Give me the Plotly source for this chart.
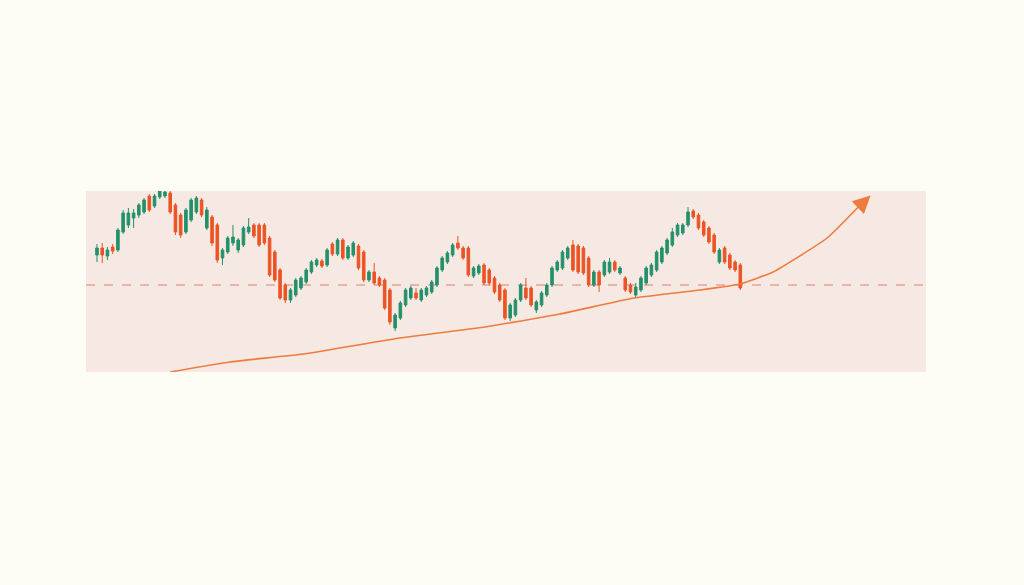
import plotly.graph_objects as go

# Candle data (index-based sessions)
opens = [117,124,116,125,122,140,147,154,157,160,176,166,175,176,179,167,157,140,152,160,
         172,144,155,147,114,120,129,122,127,140,147,147,147,134,120,102,87,72,77,84,
         90,100,107,111,107,128,118,132,114,117,126,120,92,100,94,92,82,44,54,67,
         74,79,72,77,80,87,102,110,117,129,124,124,96,99,107,102,94,87,82,54,
         57,72,84,84,62,67,77,87,102,104,114,127,126,124,114,87,100,97,100,110,
         99,94,87,77,82,89,97,102,110,119,127,137,139,147,161,157,150,144,137,110,
         124,117,110,107]
closes = [124,117,122,121,142,159,159,159,167,172,162,176,181,180,160,140,137,162,172,174,
          157,162,129,112,122,134,135,132,144,145,136,127,129,97,92,74,72,82,92,94,
          102,110,112,106,122,118,132,114,125,129,104,92,100,89,87,64,50,57,69,82,
          84,74,82,84,90,104,114,119,127,124,114,97,104,106,89,89,80,72,54,67,
          72,87,74,67,70,79,87,104,110,120,124,102,100,99,87,100,87,110,110,102,
          104,82,80,85,94,104,107,120,124,132,140,147,147,160,155,144,137,130,120,122,
          110,104,102,84]
highs = [128,129,125,128,144,162,164,163,169,174,178,178,182,181,181,169,159,164,174,176,
         174,165,157,149,124,136,147,134,146,154,149,149,149,136,122,104,89,84,94,96,
         104,112,114,113,124,130,134,134,127,131,128,122,102,109,96,94,84,59,71,84,
         86,84,84,86,92,106,116,121,129,136,126,126,106,108,109,104,96,89,84,69,
         74,89,94,86,72,81,89,106,112,122,126,132,128,126,116,102,102,112,114,112,
         106,96,89,89,96,106,109,122,126,134,144,149,149,165,163,159,152,146,139,124,
         126,119,112,109]
lows = [110,109,112,118,120,138,144,144,154,158,160,164,173,174,158,137,134,138,150,158,
        155,142,126,109,107,118,126,119,125,138,134,125,127,95,90,72,69,69,75,82,
        88,98,105,104,105,116,116,112,112,115,102,90,90,87,85,62,47,41,52,65,
        72,72,70,75,78,85,100,108,115,122,112,95,94,97,87,87,78,70,52,51,
        55,70,72,65,59,65,75,85,100,102,112,100,98,97,85,85,80,95,98,100,
        97,80,78,74,80,87,95,100,108,117,125,135,137,145,153,142,135,128,118,108,
        108,102,100,82]
sessions = list(range(len(opens)))

# Rising trend line
trend_x = [14.0, 25.4, 39.4, 57.9, 74.2, 88.5, 102.7, 115.3, 122.9, 129.3, 139.6, 146.3]
trend_y = [0, 10, 18, 34, 45, 58, 74, 82, 88, 100, 134, 169]
arrow_tip = (147.9, 176.5)

support_level = 87

GREEN = "#23916a"
RED = "#ec5425"
ORANGE = "#ee7b3e"
PAGE_BG = "#fdfcf5"

fig = go.Figure()
fig.add_trace(go.Candlestick(
    x=sessions, open=opens, high=highs, low=lows, close=closes,
    increasing=dict(line=dict(color=GREEN, width=1), fillcolor=GREEN),
    decreasing=dict(line=dict(color=RED, width=1), fillcolor=RED),
    hoverinfo="skip", showlegend=False,
))
fig.add_trace(go.Scatter(
    x=trend_x, y=trend_y, mode="lines",
    line=dict(color=ORANGE, width=1.6, shape="spline", smoothing=0.4),
    hoverinfo="skip", showlegend=False, cliponaxis=True,
))
fig.add_annotation(
    x=arrow_tip[0], y=arrow_tip[1], ax=trend_x[-1] - 0.5, ay=trend_y[-1] - 3,
    xref="x", yref="y", axref="x", ayref="y",
    showarrow=True, arrowhead=2, arrowsize=2.2, arrowwidth=1.6,
    arrowcolor=ORANGE, text="",
)
fig.add_shape(
    type="line", xref="paper", yref="y", x0=0, x1=1, y0=support_level, y1=support_level,
    line=dict(color="#d9846e", width=1, dash="dash"), layer="below",
)

fig.update_layout(
    width=1024, height=585,
    margin=dict(l=86, r=98, t=191, b=213),
    paper_bgcolor=PAGE_BG,
    plot_bgcolor="#f6e8e3",
    xaxis=dict(range=[-2.1, 158.5], visible=False, rangeslider=dict(visible=False),
               showgrid=False, zeroline=False),
    yaxis=dict(range=[0, 181], visible=False, showgrid=False, zeroline=False),
    showlegend=False,
    hovermode=False,
)

fig.write_html(
    "out.html",
    config={"displayModeBar": False, "staticPlot": True},
    post_script=(
        "document.body.style.margin='0';"
        "document.body.style.background='" + PAGE_BG + "';"
        "document.documentElement.style.background='" + PAGE_BG + "';"
    ),
)
